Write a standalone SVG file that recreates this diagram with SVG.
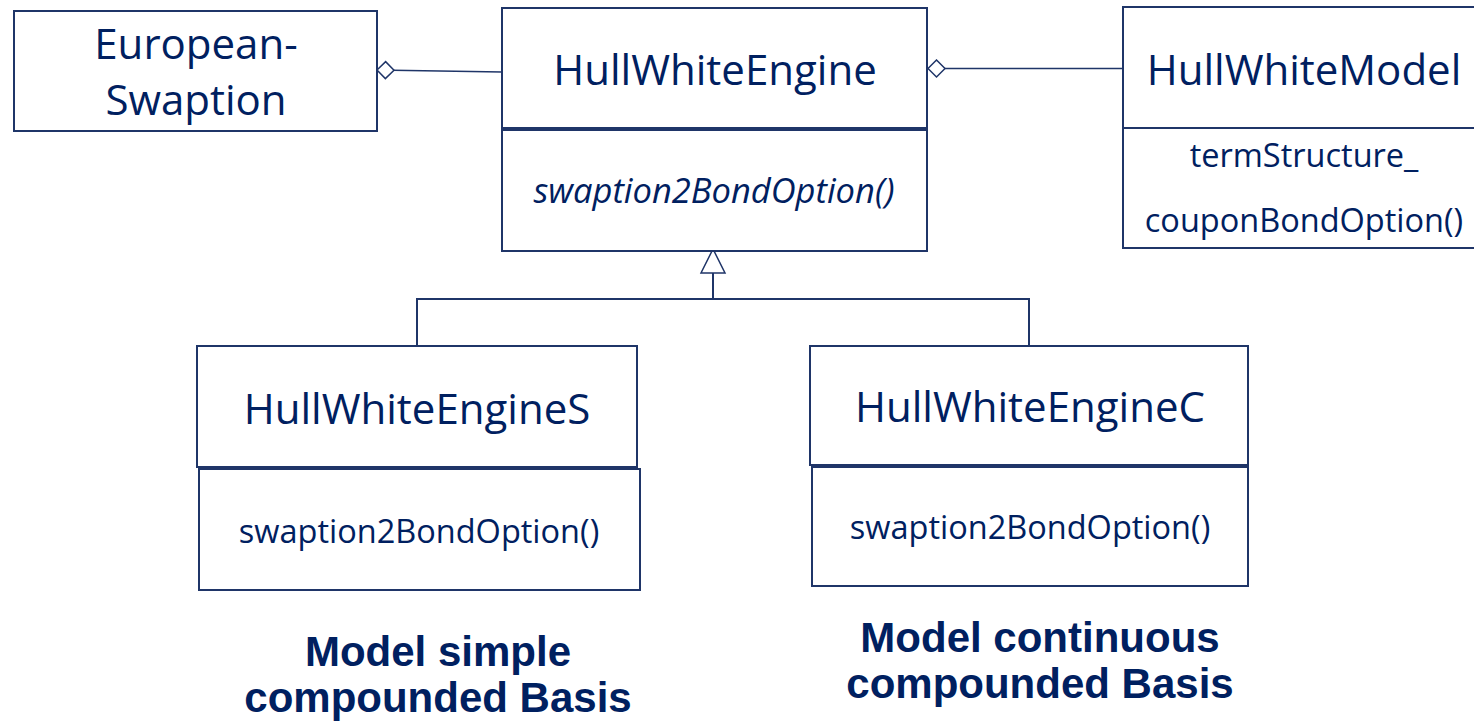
<svg xmlns="http://www.w3.org/2000/svg" width="1474" height="722" viewBox="0 0 1474 722">
  <style>
    .box { fill: #ffffff; stroke: #1f3568; stroke-width: 2; }
    .name { font-family: "Open Sans", Lato, sans-serif; font-size: 42px; fill: #002060; text-anchor: middle; }
    .member { font-family: "Open Sans", Lato, sans-serif; font-size: 32.5px; fill: #002060; text-anchor: middle; }
    .abstract { font-style: italic; font-size: 34.5px; }
    .caption { font-family: "Liberation Sans", Arial, sans-serif; font-weight: bold; font-size: 42px; fill: #002060; text-anchor: middle; }
    .wire { fill: none; stroke: #1f3568; stroke-width: 2; }
    .thin { fill: none; stroke: #1f3568; stroke-width: 1.5; }
  </style>
  <defs>
    <marker id="aggregation" markerUnits="userSpaceOnUse" viewBox="-1 -10 20 20" markerWidth="20" markerHeight="20" refX="0" refY="0" orient="auto">
      <path d="M0,0 L8.5,-8.5 L17,0 L8.5,8.5 Z" fill="#ffffff" stroke="#1f3568" stroke-width="1.5"/>
    </marker>
  </defs>

  <rect width="1474" height="722" fill="#ffffff"/>

  <!-- connectors -->
  <g id="connectors">
    <line class="thin" x1="377" y1="70" x2="502" y2="72" marker-start="url(#aggregation)"/>
    <line class="thin" x1="928" y1="68.5" x2="1122" y2="68.5" marker-start="url(#aggregation)"/>
    <!-- generalization tree -->
    <polyline class="wire" points="417,346 417,299 1029,299 1029,346"/>
    <line class="wire" x1="713" y1="273" x2="713" y2="299"/>
    <polygon points="713,249 701,273 725,273" fill="#ffffff" stroke="#1f3568" stroke-width="1.5"/>
  </g>

  <g id="european-swaption">
    <rect class="box" x="14" y="11" width="363" height="120"/>
    <text class="name" x="196" y="59">European-</text>
    <text class="name" x="196" y="115">Swaption</text>
  </g>

  <g id="hull-white-engine">
    <rect class="box" x="502" y="8" width="425" height="120"/>
    <text class="name" x="715" y="85">HullWhiteEngine</text>
    <rect class="box" x="502" y="130" width="425" height="121"/>
    <text class="member abstract" x="714" y="203">swaption2BondOption()</text>
  </g>

  <g id="hull-white-model">
    <rect class="box" x="1123" y="7" width="360" height="121"/>
    <text class="name" x="1304" y="85">HullWhiteModel</text>
    <rect class="box" x="1123" y="128" width="360" height="120"/>
    <text class="member" x="1304" y="167">termStructure_</text>
    <text class="member" x="1304" y="232">couponBondOption()</text>
  </g>

  <g id="hull-white-engine-s">
    <rect class="box" x="197" y="346" width="440" height="121"/>
    <text class="name" x="417" y="424">HullWhiteEngineS</text>
    <rect class="box" x="199" y="469" width="441" height="121"/>
    <text class="member" x="419" y="543">swaption2BondOption()</text>
  </g>

  <g id="hull-white-engine-c">
    <rect class="box" x="810" y="346" width="438" height="119"/>
    <text class="name" x="1030" y="422">HullWhiteEngineC</text>
    <rect class="box" x="812" y="467" width="436" height="119"/>
    <text class="member" x="1030" y="539">swaption2BondOption()</text>
  </g>

  <g id="caption-simple">
    <text class="caption" x="438" y="666">Model simple</text>
    <text class="caption" x="438" y="712">compounded Basis</text>
  </g>

  <g id="caption-continuous">
    <text class="caption" x="1040" y="652">Model continuous</text>
    <text class="caption" x="1040" y="698">compounded Basis</text>
  </g>
</svg>
